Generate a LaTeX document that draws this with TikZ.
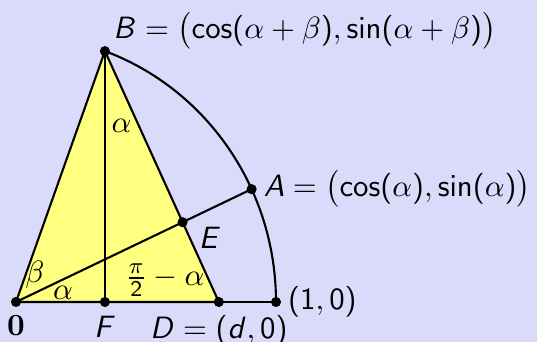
\documentclass[11pt,tikz,border=0pt]{standalone}
\usepackage{tikz}
\usetikzlibrary{calc}
\usepackage{xcolor}
\usepackage{exscale}
% sans math as on the slide: operators, digits and latin letters in cmss
\SetSymbolFont{operators}{normal}{OT1}{cmss}{m}{n}
\DeclareSymbolFont{sfletters}{OT1}{cmss}{m}{sl}
\DeclareMathSymbol{A}{\mathalpha}{sfletters}{`A}
\DeclareMathSymbol{B}{\mathalpha}{sfletters}{`B}
\DeclareMathSymbol{D}{\mathalpha}{sfletters}{`D}
\DeclareMathSymbol{E}{\mathalpha}{sfletters}{`E}
\DeclareMathSymbol{F}{\mathalpha}{sfletters}{`F}
\DeclareMathSymbol{d}{\mathalpha}{sfletters}{`d}
\definecolor{slidebg}{RGB}{218,218,250}
\definecolor{tri}{RGB}{255,255,128}

\begin{document}
\begin{tikzpicture}[
  x=3.25cm, y=3.3375cm,
  line cap=round,
  line join=round,
  edge/.style={line width=0.75pt},
  dot/.style={circle, fill=black, inner sep=0pt, minimum size=3.6pt},
  lbl/.style={font=\normalsize}
]
\useasboundingbox (-0.06154,-0.14981) rectangle (2.00385,1.13109);
\fill[slidebg] (-0.06154,-0.14981) rectangle (2.00385,1.13109);

%========== points on the unit circle ==========
\def\al{25}\def\be{45}
\coordinate (O) at (0,0);
\coordinate (P) at (1,0);
\coordinate (A) at ({cos(\al)},{sin(\al)});
\coordinate (B) at ({cos(\al+\be)},{sin(\al+\be)});
\coordinate (D) at ({cos(\be)/cos(\al)},0);
\coordinate (E) at ({cos(\be)*cos(\al)},{cos(\be)*sin(\al)});
\coordinate (F) at ({cos(\al+\be)},0);

%========== triangle OBD ==========
\fill[tri] (O) -- (B) -- (D) -- cycle;
\draw[edge] (O) -- (B) -- (D) -- cycle;
\draw[edge] (D) -- (P);
\draw[edge] (P) arc[start angle=0, end angle=\al+\be, radius=1];
\draw[edge] (O) -- (E) -- (A);
\draw[edge] (F) -- node[pos=0.7, right, lbl, inner sep=2pt]{$\alpha$} (B);

% angle labels
\node[lbl] (alO) at (0.181,0.036) {$\alpha$};
\node[lbl] (beO) at (0.073,0.101) {$\beta$};
\node[lbl] (alD) at (0.573,0.082) {$\frac{\pi}{2}-\alpha$};

%========== dots and their labels ==========
\node[dot, label={[lbl, inner sep=1pt, label distance=-3.4pt, xshift=2.8pt, yshift=0.3pt]above right:$B = \bigl(\cos(\alpha+\beta), \sin(\alpha+\beta)\bigr)$}] (b) at (B) {};
\node[dot, label={[lbl, label distance=-1.5pt]right:$A = \bigl(\cos(\alpha), \sin(\alpha)\bigr)$}] (a) at (A) {};
\node[dot, label={[lbl, xshift=0.5pt, yshift=3.5pt]below right:$E$}] (e) at (E) {};
\node[dot, label={[lbl, label distance=-1.5pt]right:$(1,0)$}] (p) at (P) {};
\node[dot, label={[lbl, label distance=-1pt]below:$D = (d,0)$}] (d) at (D) {};
\node[dot, label={[lbl, label distance=-1pt]below:$F$}] (f) at (F) {};
\node[dot, label={[lbl, label distance=-1pt]below:$\mathbf{0}$}] (o) at (O) {};
\end{tikzpicture}
\end{document}
